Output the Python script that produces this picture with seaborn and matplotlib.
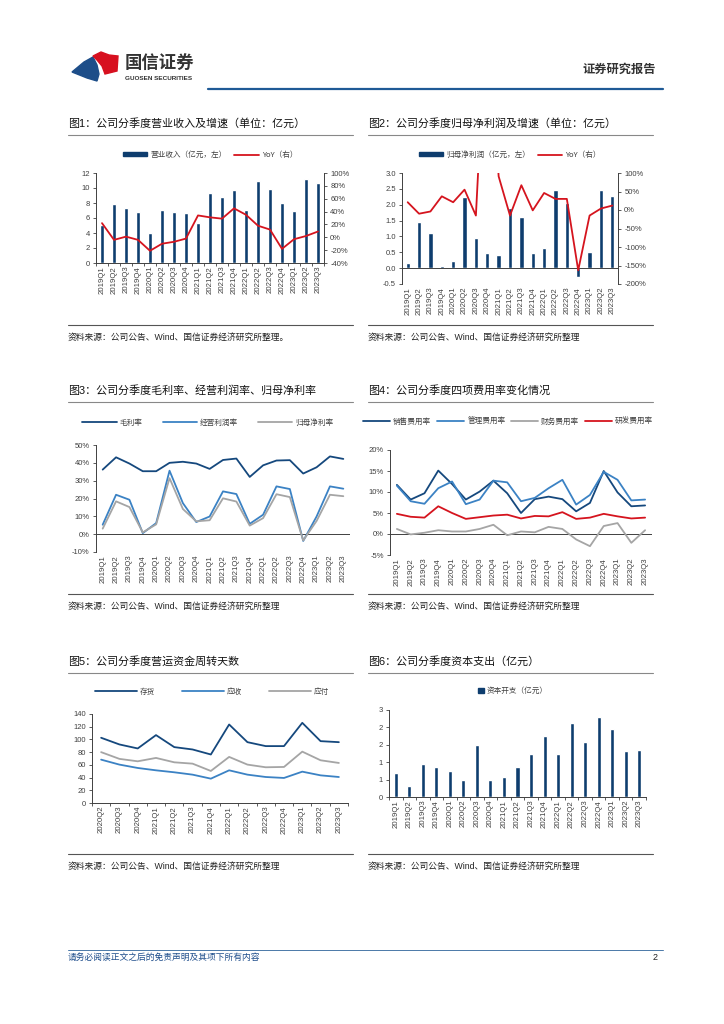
import numpy as np
import pandas as pd
import matplotlib
matplotlib.use("Agg")
import matplotlib.pyplot as plt
import seaborn as sns
from matplotlib.patches import Patch, Polygon
from matplotlib.lines import Line2D
from matplotlib.ticker import FuncFormatter

# ---- data ----
quarters = ["2019Q1", "2019Q2", "2019Q3", "2019Q4", "2020Q1", "2020Q2", "2020Q3", "2020Q4",
            "2021Q1", "2021Q2", "2021Q3", "2021Q4", "2022Q1", "2022Q2", "2022Q3", "2022Q4",
            "2023Q1", "2023Q2", "2023Q3"]
quarters_wc = quarters[5:]

revenue = [5.1, 7.9, 7.3, 6.8, 4.0, 7.1, 6.8, 6.7, 5.4, 9.4, 8.8, 9.8, 7.1, 11.0, 9.9, 8.0, 6.9, 11.2, 10.7]
revenue_yoy = [22, -4, 1, -4, -21, -10, -7, -2, 34, 31, 29, 45, 35, 18, 12, -18, -3, 2, 9]

net_profit = [0.16, 1.45, 1.11, 0.07, 0.22, 2.23, 0.96, 0.48, 0.42, 1.89, 1.61, 0.47, 0.64, 2.46, 2.06, -0.28, 0.51, 2.47, 2.28]
net_profit_yoy = [21, -10, -4, 37, 21, 55, -15, 586, 91, -15, 67, -1, 46, 30, 30, -163, -15, 4, 12]

gross_margin = [36.2, 43.1, 39.6, 35.3, 35.3, 40.0, 40.6, 39.6, 36.6, 41.6, 42.4, 32.1, 38.6, 41.3, 41.5, 34.0, 37.5, 43.6, 42.2]
op_margin = [5.3, 22.1, 19.3, 0.6, 6.2, 35.6, 17.4, 6.8, 9.9, 24.0, 22.5, 5.8, 10.9, 26.8, 25.3, -3.8, 9.9, 26.8, 25.5]
net_margin = [3.1, 18.4, 15.2, 1.0, 5.5, 31.4, 14.1, 7.2, 7.8, 20.1, 18.3, 4.8, 9.0, 22.4, 20.8, -3.5, 7.4, 22.1, 21.3]

selling_rate = [11.7, 8.2, 9.7, 15.1, 11.9, 8.2, 10.1, 12.7, 9.7, 5.0, 8.3, 8.9, 8.3, 5.4, 7.4, 15.0, 9.9, 6.6, 6.8]
admin_rate = [11.5, 7.8, 7.2, 10.9, 12.5, 7.1, 8.2, 12.7, 12.3, 7.8, 8.6, 10.9, 12.9, 7.0, 9.3, 14.8, 12.9, 8.0, 8.2]
finance_rate = [1.2, -0.1, 0.3, 0.9, 0.6, 0.6, 1.2, 2.2, -0.3, 0.6, 0.4, 1.7, 1.2, -1.3, -2.9, 1.9, 2.6, -2.1, 0.9]
rd_rate = [4.8, 4.1, 3.9, 6.6, 5.0, 3.6, 4.0, 4.4, 4.6, 3.7, 4.3, 4.2, 5.2, 3.6, 3.9, 4.8, 4.2, 3.7, 3.9]

inventory_days = [102.6, 92.1, 85.8, 106.8, 87.9, 84.2, 76.3, 123.5, 95.7, 89.5, 89.5, 126.1, 97.3, 95.7]
receivable_days = [68.2, 60.4, 55.1, 51.4, 48.3, 44.6, 38.3, 51.4, 44.6, 40.9, 39.4, 49.3, 43.5, 40.9]
payable_days = [80.0, 69.4, 65.6, 70.9, 64.0, 61.9, 50.4, 72.5, 60.4, 56.2, 56.7, 80.8, 67.2, 63.0]

capex = [0.68, 0.32, 0.95, 0.85, 0.75, 0.50, 1.48, 0.48, 0.57, 0.85, 1.24, 1.74, 1.24, 2.13, 1.58, 2.30, 1.96, 1.32, 1.35]
capex_ticks = [0, 0.5, 1.0, 1.5, 2.0, 2.5]
capex_tick_labels = ["0", "1", "1", "2", "2", "3"]

NAVY = "#0E3D6E"
DARK = "#15487D"
MID = "#3B82C4"
GRAY = "#A5A5A5"
RED = "#D5141E"
TXT = "#404040"
BLUE_LINE = "#1F5A96"

sns.set_theme(style="white")
plt.rcParams["font.family"] = ["Liberation Sans", "Noto Sans CJK SC", "DejaVu Sans"]
plt.rcParams["axes.unicode_minus"] = False

LEG_PROP = {"family": "Noto Sans CJK SC", "size": 5.5}

W, H = 724, 1024
fig = plt.figure(figsize=(7.24, 10.24), dpi=100)


def box(x0, y0, x1, y1):
    return [x0 / W, 1 - y1 / H, (x1 - x0) / W, (y1 - y0) / H]


def fx(x):
    return x / W


def fy(y):
    return 1 - y / H


def base_style(ax, n, xaxis_at_zero=False):
    ax.set_xlim(-0.5, n - 0.5)
    ax.set_xlabel("")
    ax.set_ylabel("")
    for s in ["top", "right"]:
        ax.spines[s].set_visible(False)
    ax.spines["left"].set_color(TXT)
    ax.spines["left"].set_linewidth(0.7)
    ax.spines["bottom"].set_color(TXT)
    ax.spines["bottom"].set_linewidth(0.7)
    ax.tick_params(axis="y", which="major", length=2.5, width=0.6, color=TXT,
                   labelsize=5.5, labelcolor=TXT, direction="out", pad=2, left=True)
    ax.tick_params(axis="x", which="major", length=0, labelsize=5.6, labelcolor=TXT,
                   rotation=90, pad=2)
    ax.set_xticks(np.arange(n))
    if xaxis_at_zero:
        ax.spines["bottom"].set_visible(False)
        ax.axhline(0, color=TXT, lw=0.7, zorder=1)
    else:
        ax.set_xticks(np.arange(n + 1) - 0.5, minor=True)
        ax.tick_params(axis="x", which="minor", length=2.5, width=0.6, color=TXT,
                       direction="out", bottom=True)
    ax.grid(False)


def pct_fmt(v, pos):
    return "%d%%" % round(v)


def style_right(axr):
    axr.set_ylabel("")
    for s in ["top", "left", "bottom"]:
        axr.spines[s].set_visible(False)
    axr.spines["right"].set_color(TXT)
    axr.spines["right"].set_linewidth(0.7)
    axr.tick_params(axis="y", length=2.5, width=0.6, color=TXT, labelsize=5.5, labelcolor=TXT,
                    direction="out", pad=2, right=True)
    axr.yaxis.set_major_formatter(FuncFormatter(pct_fmt))
    axr.grid(False)


def line_legend(ax, cx, cy, **kw):
    # move the seaborn legend up to figure level, centred above the chart
    handles, labels = ax.get_legend_handles_labels()
    ax.get_legend().remove()
    fig.legend(handles, labels, loc="center", bbox_to_anchor=(fx(cx), fy(cy)), frameon=False,
               prop=LEG_PROP, handletextpad=0.4, labelcolor=TXT, ncol=len(labels), **kw)


# ---------------- header / footer ----------------
fig.patches.append(Polygon([(fx(72), fy(72)), (fx(84), fy(62)), (fx(93), fy(57)),
                            (fx(97), fy(65)), (fx(99), fy(74)), (fx(97), fy(81)),
                            (fx(87), fy(78))], closed=True, color="#1D4E89",
                           transform=fig.transFigure))
fig.patches.append(Polygon([(fx(93), fy(56)), (fx(101), fy(52)), (fx(109), fy(55)),
                            (fx(118), fy(56)), (fx(117), fy(71)), (fx(105), fy(74)),
                            (fx(102), fy(66)), (fx(97), fy(60))], closed=True, color="#D7101F",
                           transform=fig.transFigure))
fig.text(fx(125), fy(62), "国信证券", fontsize=12.5, color="#333333", va="center",
         fontweight="bold")
fig.text(fx(125), fy(78), "GUOSEN SECURITIES", fontsize=4.6, color="#333333", va="center",
         fontweight="bold")
fig.text(fx(656), fy(70), "证券研究报告", fontsize=8.8, color="#333333", va="center", ha="right",
         fontweight="bold")
fig.add_artist(Line2D([fx(208), fx(663)], [fy(89), fy(89)], color=BLUE_LINE, lw=1.6))

fig.add_artist(Line2D([fx(68), fx(663)], [fy(950), fy(950)], color="#4A78A8", lw=0.7))
fig.text(fx(68), fy(957), "请务必阅读正文之后的免责声明及其项下所有内容", fontsize=6.3,
         color="#1F4E8C", va="center", style="italic")
fig.text(fx(658), fy(958), "2", fontsize=6.5, color="#222222", va="center", ha="right")

# ---------------- titles / sources ----------------
titles = [
    (68, 123, "图1：公司分季度营业收入及增速（单位：亿元）"),
    (368, 123, "图2：公司分季度归母净利润及增速（单位：亿元）"),
    (68, 390, "图3：公司分季度毛利率、经营利润率、归母净利率"),
    (368, 390, "图4：公司分季度四项费用率变化情况"),
    (68, 661, "图5：公司分季度营运资金周转天数"),
    (368, 661, "图6：公司分季度资本支出（亿元）"),
]
for x, y, t in titles:
    fig.text(fx(x), fy(y), t, fontsize=7.9, color="#111111", va="center")
    fig.add_artist(Line2D([fx(x), fx(x + 285)], [fy(y + 12), fy(y + 12)], color="#888888", lw=0.8))

sources = [(68, 337, "资料来源：公司公告、Wind、国信证券经济研究所整理。"),
           (368, 337, "资料来源：公司公告、Wind、国信证券经济研究所整理"),
           (68, 606, "资料来源：公司公告、Wind、国信证券经济研究所整理"),
           (368, 606, "资料来源：公司公告、Wind、国信证券经济研究所整理"),
           (68, 866, "资料来源：公司公告、Wind、国信证券经济研究所整理"),
           (368, 866, "资料来源：公司公告、Wind、国信证券经济研究所整理")]
for x, y, t in sources:
    fig.text(fx(x), fy(y), t, fontsize=6.3, color="#222222", va="center")
    fig.add_artist(Line2D([fx(x), fx(x + 285)], [fy(y - 12), fy(y - 12)], color="#555555", lw=0.8))

n = len(quarters)
pos = np.arange(n)

# ---------------- chart 1 ----------------
df1 = pd.DataFrame({"quarter": quarters, "pos": pos, "revenue": revenue, "yoy": revenue_yoy})
ax1 = fig.add_axes(box(96, 173, 324, 263))
sns.barplot(data=df1, x="quarter", y="revenue", color=NAVY, width=0.4, saturation=1, ax=ax1)
base_style(ax1, n)
ax1.set_ylim(0, 12)
ax1.set_yticks(np.arange(0, 13, 2))
ax1.set_xticklabels(quarters)
ax1r = ax1.twinx()
sns.lineplot(data=df1, x="pos", y="yoy", color=RED, lw=1.3, sort=False, ax=ax1r)
ax1r.set_ylim(-40, 100)
ax1r.set_yticks(np.arange(-40, 101, 20))
style_right(ax1r)
fig.legend(handles=[Patch(color=NAVY, label="营业收入（亿元，左）"),
                    Line2D([], [], color=RED, lw=1.3, label="YoY（右）")],
           loc="center", bbox_to_anchor=(fx(210), fy(155)), ncol=2, frameon=False,
           prop=LEG_PROP, handlelength=3.2, handleheight=0.5, columnspacing=1.0,
           handletextpad=0.4, labelcolor=TXT)

# ---------------- chart 2 ----------------
df2 = pd.DataFrame({"quarter": quarters, "pos": pos, "profit": net_profit, "yoy": net_profit_yoy})
ax2 = fig.add_axes(box(402, 173, 618, 284))
sns.barplot(data=df2, x="quarter", y="profit", color=NAVY, width=0.38, saturation=1, ax=ax2)
base_style(ax2, n, xaxis_at_zero=True)
ax2.set_ylim(-0.5, 3.0)
ax2.set_yticks(np.arange(-0.5, 3.01, 0.5))
ax2.yaxis.set_major_formatter(FuncFormatter(lambda v, p: "%.1f" % v))
ax2.set_xticklabels(quarters)
ax2r = ax2.twinx()
sns.lineplot(data=df2, x="pos", y="yoy", color=RED, lw=1.3, sort=False, ax=ax2r)
ax2r.set_ylim(-200, 100)
ax2r.set_yticks(np.arange(-200, 101, 50))
style_right(ax2r)
fig.legend(handles=[Patch(color=NAVY, label="归母净利润（亿元，左）"),
                    Line2D([], [], color=RED, lw=1.3, label="YoY（右）")],
           loc="center", bbox_to_anchor=(fx(510), fy(155)), ncol=2, frameon=False,
           prop=LEG_PROP, handlelength=3.2, handleheight=0.5, columnspacing=1.0,
           handletextpad=0.4, labelcolor=TXT)

# ---------------- chart 3 ----------------
df3 = pd.DataFrame({"pos": pos, "毛利率": gross_margin, "经营利润率": op_margin,
                    "归母净利率": net_margin}).melt(id_vars="pos", var_name="series", value_name="v")
ax3 = fig.add_axes(box(96, 445, 350, 552))
sns.lineplot(data=df3, x="pos", y="v", hue="series", palette=[DARK, MID, GRAY], lw=1.3,
             sort=False, ax=ax3)
base_style(ax3, n, xaxis_at_zero=True)
ax3.set_ylim(-10, 50)
ax3.set_yticks(np.arange(-10, 51, 10))
ax3.yaxis.set_major_formatter(FuncFormatter(pct_fmt))
ax3.set_xticklabels(quarters)
line_legend(ax3, 208, 423, handlelength=4.5, columnspacing=2.6)

# ---------------- chart 4 ----------------
df4 = pd.DataFrame({"pos": pos, "销售费用率": selling_rate, "管理费用率": admin_rate,
                    "财务费用率": finance_rate, "研发费用率": rd_rate}).melt(
    id_vars="pos", var_name="series", value_name="v")
ax4 = fig.add_axes(box(390, 450, 652, 555))
sns.lineplot(data=df4, x="pos", y="v", hue="series", palette=[DARK, MID, GRAY, RED], lw=1.3,
             sort=False, ax=ax4)
base_style(ax4, n, xaxis_at_zero=True)
ax4.set_ylim(-5, 20)
ax4.set_yticks(np.arange(-5, 21, 5))
ax4.yaxis.set_major_formatter(FuncFormatter(pct_fmt))
ax4.set_xticklabels(quarters)
line_legend(ax4, 508, 422, handlelength=3.6, columnspacing=0.7)

# ---------------- chart 5 ----------------
m = len(quarters_wc)
df5 = pd.DataFrame({"pos": np.arange(m), "存货": inventory_days, "应收": receivable_days,
                    "应付": payable_days}).melt(id_vars="pos", var_name="series", value_name="v")
ax5 = fig.add_axes(box(92, 714, 348, 803))
sns.lineplot(data=df5, x="pos", y="v", hue="series", palette=[DARK, MID, GRAY], lw=1.3,
             sort=False, ax=ax5)
base_style(ax5, m)
ax5.set_ylim(0, 140)
ax5.set_yticks(np.arange(0, 141, 20))
ax5.set_xticklabels(quarters_wc)
line_legend(ax5, 212, 692, handlelength=5.5, columnspacing=3.5)

# ---------------- chart 6 ----------------
df6 = pd.DataFrame({"quarter": quarters, "capex": capex})
ax6 = fig.add_axes(box(389, 710, 646, 797))
sns.barplot(data=df6, x="quarter", y="capex", color=NAVY, width=0.3, saturation=1, ax=ax6)
base_style(ax6, n)
ax6.set_ylim(0, 2.5)
ax6.set_yticks(capex_ticks)
ax6.set_yticklabels(capex_tick_labels)
ax6.set_xticklabels(quarters)
fig.legend(handles=[Patch(color=NAVY, label="资本开支（亿元）")],
           loc="center", bbox_to_anchor=(fx(513), fy(691)), frameon=False,
           prop=LEG_PROP, handlelength=0.7, handleheight=0.7, handletextpad=0.4, labelcolor=TXT)

fig.savefig("out.png", dpi=100)
